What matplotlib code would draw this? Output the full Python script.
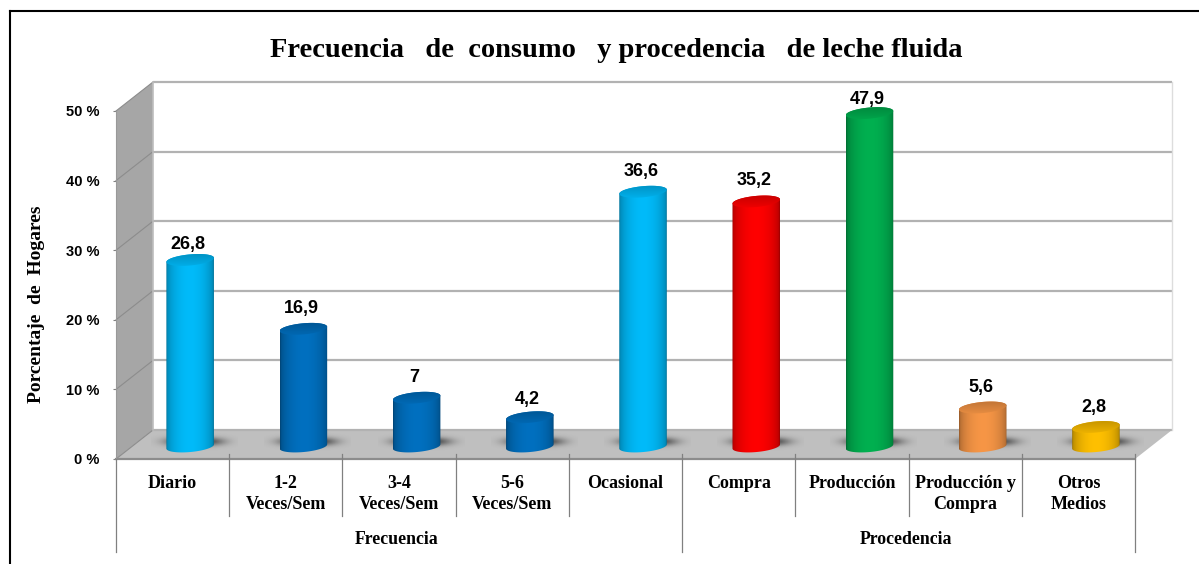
import numpy as np
import matplotlib
matplotlib.use("Agg")
import matplotlib.pyplot as plt
from matplotlib.colors import to_rgb
from matplotlib.lines import Line2D
from matplotlib.patches import Polygon

# chart data
categories = ["Diario", "1-2\nVeces/Sem", "3-4\nVeces/Sem", "5-6\nVeces/Sem", "Ocasional",
              "Compra", "Producción", "Producción y\nCompra", "Otros\nMedios"]
values = [26.8, 16.9, 7, 4.2, 36.6, 35.2, 47.9, 5.6, 2.8]
value_labels = ["26,8", "16,9", "7", "4,2", "36,6", "35,2", "47,9", "5,6", "2,8"]
colors = ["#00BBFA", "#0070C0", "#0070C0", "#0070C0", "#00BBFA",
          "#FF0000", "#00B050", "#F79646", "#FFC000"]
groups = ["Frecuencia", "Procedencia"]
y_ticks = [0, 10, 20, 30, 40, 50]

W, H = 1199, 564
SANS = "Liberation Sans"
SERIF = "Liberation Serif"

fig = plt.figure(figsize=(W / 100, H / 100), dpi=100, facecolor="white")
ax = fig.add_axes([116 / W, (H - 459) / H, (1135 - 116) / W, (459 - 111) / H])
ax.patch.set_visible(False)
n = len(values)

# 3d depth of the box in data units
depth_x = 37 / (1019 / n)
depth_y = 29 / (348 / 50)
bar_x = 0.155
bar_y = 1.8
half_w = 0.21
half_h = 0.8
tilt = 0.3


def gradient(x0, x1, y0, y1, rgb_array, clip_xy, z):
    im = ax.imshow(rgb_array, extent=(x0, x1, y0, y1), aspect="auto", origin="lower",
                   interpolation="bilinear", zorder=z)
    im.set_clip_box(fig.bbox)
    im.set_clip_path(Polygon(clip_xy, closed=True, transform=ax.transData))


def ell(xc, yc, a, b):
    t = np.linspace(a, b, 50)
    return np.column_stack([xc + half_w * np.cos(t),
                            yc + half_h * np.sin(t) + tilt * np.cos(t)])


# walls and floor
left_wall = [(0, 0), (0, 50), (depth_x, 50 + depth_y), (depth_x, depth_y)]
floor = [(0, 0), (n, 0), (n + depth_x, depth_y), (depth_x, depth_y)]
ax.add_patch(Polygon(left_wall, closed=True, fc="#A6A6A6", ec="none", clip_on=False, zorder=1))
ax.add_patch(Polygon(floor, closed=True, fc="#BFBFBF", ec="none", clip_on=False, zorder=1))
for t in y_ticks:
    ax.plot([depth_x, n + depth_x], [t + depth_y, t + depth_y], color="#B2B2B2", lw=1.6,
            clip_on=False, zorder=2, solid_capstyle="butt")
    ax.plot([0, depth_x], [t, t + depth_y], color="#8C8C8C", lw=0.8, clip_on=False, zorder=2)
ax.plot([depth_x, depth_x], [depth_y, 50 + depth_y], color="#BDBDBD", lw=1.2, clip_on=False, zorder=2)
ax.plot([n + depth_x, n + depth_x], [depth_y, 50 + depth_y], color="#DDDDDD", lw=1, clip_on=False, zorder=2)
ax.plot([0, n], [0, 0], color="#8C8C8C", lw=1.6, clip_on=False, zorder=3)
ax.plot([0, 0], [0, 50], color="#999999", lw=0.8, clip_on=False, zorder=3)

# bars drawn as shaded cylinders
z = 5
u = np.linspace(0, 1, 80)
for i, (v, c) in enumerate(zip(values, colors)):
    xc = i + 0.5 + bar_x
    rgb = np.array(to_rgb(c))

    # soft shadow on the floor
    xs = np.linspace(-1, 1, 120)
    ys = np.linspace(-1, 1, 40)
    gx, gy = np.meshgrid(xs, ys)
    shadow = np.zeros((40, 120, 4))
    shadow[..., 3] = 0.7 * np.exp(-(np.abs(gx) ** 3 * 3.5 + gy ** 2 * 5))
    sx = xc + 0.035
    sy = 2.44
    ax.imshow(shadow, extent=(sx - 0.38, sx + 0.38, sy - 1.3, sy + 1.3), aspect="auto",
              origin="lower", zorder=z, clip_on=False)

    # body
    y_low = bar_y
    y_top = bar_y + v
    outline = np.vstack([ell(xc, y_low, np.pi, 2 * np.pi), ell(xc, y_top, 0, np.pi)])
    shade = 0.6 + 0.4 * np.clip(np.sin(np.pi * u) ** 0.4, 0, 1) * (1 - 0.06 * np.abs(u - 0.55))
    body = (rgb[None, :] * shade[:, None])[None, :, :]
    gradient(xc - half_w, xc + half_w, y_low - 2, y_top + 2, body, outline, z + 1)

    # top cap, darker at the back
    cap_xy = ell(xc, y_top, 0, 2 * np.pi)
    cap_shade = np.linspace(0.95, 0.76, 30)
    cap = (rgb[None, :] * cap_shade[:, None])[:, None, :]
    gradient(xc - half_w, xc + half_w, y_top - half_h - tilt, y_top + half_h + tilt, cap, cap_xy, z + 2)
    z += 3

ax.set_xlim(0, n)
ax.set_ylim(0, 50)

# value labels just above each bar
label_gap = [2.25, 2.95, 2.95, 2.55, 2.85, 2.95, 1.9, 2.85, 2.75]
for i, (v, txt) in enumerate(zip(values, value_labels)):
    ax.text(i + 0.5 + bar_x - 0.02, bar_y + v + label_gap[i], txt, ha="center", va="center",
            fontsize=13, fontweight="bold", family=SANS, color="black", zorder=60, clip_on=False)

# axes
for s in ax.spines.values():
    s.set_visible(False)
ax.set_yticks(y_ticks, [f"{t} %" for t in y_ticks], family=SANS, fontweight="bold", fontsize=10.5)
ax.tick_params(axis="y", length=2.2, width=0.8, color="#808080", pad=9.5)
ax.set_xticks(np.arange(n) + 0.5, categories, family=SERIF, fontweight="bold", fontsize=13,
              linespacing=1.3)
ax.tick_params(axis="x", length=0, pad=11.5)

# category separators under the floor
y_sep_low = (459 - 516) / (348 / 50)
y_sep_end = (459 - 552) / (348 / 50)
for k in range(n + 1):
    long_line = k in (0, 5, n)
    ax.plot([k, k], [y_sep_end if long_line else y_sep_low, 0 if k == 0 else 0.7], color="#808080",
            lw=0.9, clip_on=False, zorder=4)

y_group = (459 - 539.5) / (348 / 50)
ax.text(2.48, y_group, groups[0], ha="center", va="center", family=SERIF, fontweight="bold", fontsize=12.8)
ax.text(6.98, y_group, groups[1], ha="center", va="center", family=SERIF, fontweight="bold", fontsize=12.8)

# title, y label, outer frame
fig.text(616 / W, (H - 57) / H, "Frecuencia   de  consumo   y procedencia   de leche fluida",
         ha="center", va="baseline", family=SERIF, fontweight="bold", fontsize=20.5)
fig.text(37 / W, (H - 304) / H, "Porcentaje  de  Hogares", rotation=90, ha="center", va="center",
         family=SERIF, fontweight="bold", fontsize=14)
fig.add_artist(Line2D([10 / W, 10 / W], [0, (H - 11) / H], color="black", lw=1.5))
fig.add_artist(Line2D([10 / W, 1], [(H - 11) / H, (H - 11) / H], color="black", lw=1.5))

fig.savefig("out.png", dpi=100)
